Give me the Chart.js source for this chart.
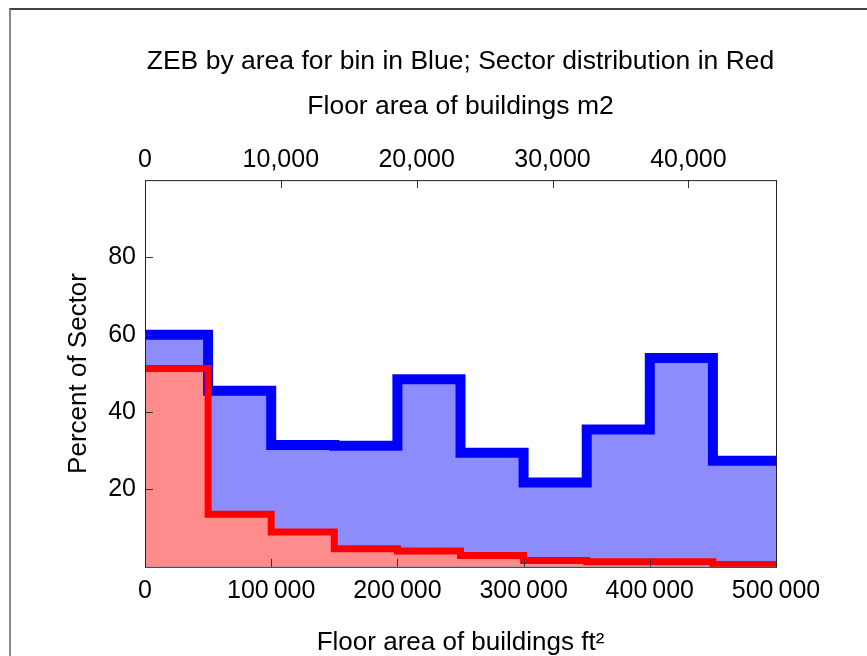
<!DOCTYPE html>
<html>
<head>
<meta charset="utf-8">
<script src="https://cdn.jsdelivr.net/npm/chart.js@4"></script>
<style>
  body { margin: 0; background: #fff; }
  #wrap { position: relative; width: 867px; height: 656px; overflow: hidden; }
  #frame { position: absolute; left: 9px; top: 8px; width: 900px; height: 700px;
           border-left: 2px solid #888; border-top: 2px solid #444; }
  canvas { position: absolute; left: 0; top: 0; }
</style>
</head>
<body>
<div id="wrap">
  <div id="frame"></div>
  <canvas id="chart" width="867" height="656"></canvas>
</div>
<script>
// bins are 50 000 ft2 wide, starting at these edges
const binStart = [0, 50000, 100000, 150000, 200000, 250000, 300000, 350000, 400000, 450000];
const binEnd = 500000;
// ZEB share by area for each bin (blue)
const zebPct = [60, 45.5, 31.5, 31.3, 48.5, 29.5, 21.8, 35.5, 54, 27.4];
// sector distribution (red)
const sectorPct = [51.3, 13.6, 9, 4.7, 4.1, 2.9, 1.6, 1.3, 1.3, 0.6];
const ftTicks = [0, 100000, 200000, 300000, 400000, 500000];
const m2Ticks = [0, 10000, 20000, 30000, 40000];
const yTicks = [20, 40, 60, 80];
const FT2_PER_M2 = 10.7639;

function steps(vals) {
  const pts = binStart.map((x, i) => ({ x: x, y: vals[i] }));
  pts.push({ x: binEnd, y: vals[vals.length - 1] });
  return pts;
}

const fam = 'Liberation Sans, Arial, sans-serif';
const tickFont = { family: fam, size: 25 };
const labelFont = { family: fam, size: 26 };

// tick marks drawn inside the plot frame
const innerTicks = {
  id: 'innerTicks',
  afterDatasetsDraw(chart) {
    const c = chart.ctx, a = chart.chartArea;
    c.save();
    c.strokeStyle = '#333';
    c.lineWidth = 1;
    c.beginPath();
    chart.scales.x.ticks.forEach(t => {
      const px = Math.round(chart.scales.x.getPixelForValue(t.value)) + 0.5;
      c.moveTo(px, a.bottom); c.lineTo(px, a.bottom - 8);
    });
    chart.scales.x2.ticks.forEach(t => {
      const px = Math.round(chart.scales.x2.getPixelForValue(t.value)) + 0.5;
      c.moveTo(px, a.top); c.lineTo(px, a.top + 8);
    });
    chart.scales.y.ticks.forEach(t => {
      const py = Math.round(chart.scales.y.getPixelForValue(t.value)) + 0.5;
      c.moveTo(a.left, py); c.lineTo(a.left + 8, py);
    });
    c.stroke();
    c.strokeStyle = '#222';
    c.strokeRect(a.left + 0.5, a.top + 0.5, a.right - a.left, a.bottom - a.top);
    c.restore();
  }
};

new Chart(document.getElementById('chart'), {
  type: 'line',
  data: {
    datasets: [
      {
        label: 'Sector distribution',
        data: steps(sectorPct),
        stepped: 'before',
        borderColor: '#ff0000',
        borderWidth: 7,
        backgroundColor: 'rgb(255,140,140)',
        fill: 'origin',
        pointRadius: 0
      },
      {
        label: 'ZEB by area',
        data: steps(zebPct),
        stepped: 'before',
        borderColor: '#0000ff',
        borderWidth: 10,
        backgroundColor: 'rgb(140,140,252)',
        fill: 'origin',
        pointRadius: 0
      }
    ]
  },
  plugins: [innerTicks],
  options: {
    responsive: false,
    animation: false,
    layout: { padding: { left: 63, right: 91, top: 12, bottom: -2 } },
    plugins: {
      legend: { display: false },
      tooltip: { enabled: false },
      filler: { drawTime: 'beforeDatasetsDraw' }
    },
    scales: {
      x: {
        type: 'linear',
        position: 'bottom',
        min: 0,
        max: binEnd,
        afterBuildTicks: s => { s.ticks = ftTicks.map(v => ({ value: v })); },
        ticks: {
          color: '#000',
          font: tickFont,
          padding: 9,
          maxRotation: 0,
          callback: v => v === 0 ? '0' : String(v / 1000) + '\u2009000'
        },
        grid: { display: false, drawTicks: false },
        border: { display: false },
        title: { display: true, text: 'Floor area of buildings ft\u00b2', color: '#000', font: labelFont, padding: { top: 12, bottom: 0 } }
      },
      x2: {
        type: 'linear',
        position: 'top',
        min: 0,
        max: binEnd / FT2_PER_M2,
        afterBuildTicks: s => { s.ticks = m2Ticks.map(v => ({ value: v })); },
        ticks: {
          color: '#000',
          font: tickFont,
          padding: 5,
          maxRotation: 0,
          callback: v => v.toLocaleString('en-US')
        },
        grid: { display: false, drawTicks: false },
        border: { display: false },
        // chart title sits centred over the plot, above the m2 axis name
        title: {
          display: true,
          text: ['ZEB by area for bin in Blue; Sector distribution in Red', 'Floor area of buildings m2'],
          color: '#000',
          font: { family: fam, size: 26.5, lineHeight: 1.7 },
          padding: { top: 27, bottom: 11 }
        }
      },
      y: {
        min: 0,
        max: 100,
        afterBuildTicks: s => { s.ticks = yTicks.map(v => ({ value: v })); },
        ticks: { color: '#000', font: tickFont, padding: 9 },
        grid: { display: false, drawTicks: false },
        border: { display: false },
        title: { display: true, text: 'Percent of Sector', color: '#000', font: labelFont, padding: { top: 0, bottom: 5 } }
      }
    }
  }
});
</script>
</body>
</html>
